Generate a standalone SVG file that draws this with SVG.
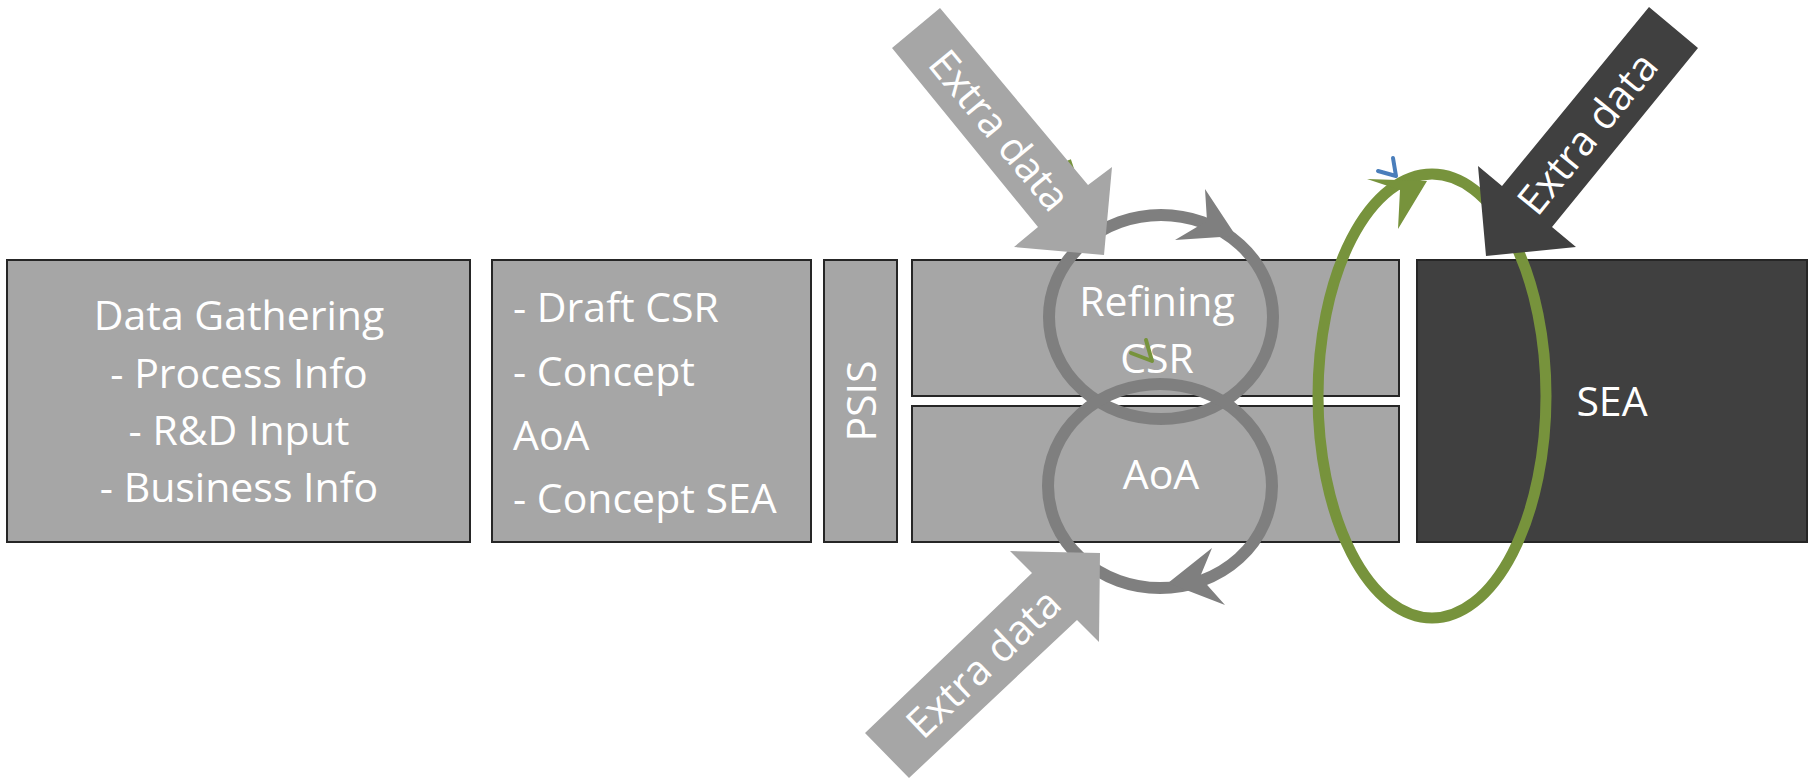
<svg xmlns="http://www.w3.org/2000/svg" width="1816" height="780" viewBox="0 0 1816 780">
<style>
.box{fill:#a6a6a6;stroke:#262626;stroke-width:2}
.dark{fill:#404040;stroke:#262626;stroke-width:2}
.t{font-family:"Open Sans","Liberation Sans",sans-serif;font-size:41px;fill:#ffffff}
.c{text-anchor:middle}
.ring{fill:none;stroke:#7f7f7f;stroke-width:12}
.green{fill:none;stroke:#77933c;stroke-width:11}
.tick{fill:none;stroke:#77933c;stroke-width:4;stroke-linecap:round;stroke-linejoin:round}
</style>
<rect width="1816" height="780" fill="#ffffff"/>
<g id="data-gathering">
<rect class="box" x="7" y="260" width="463" height="282"/>
<text class="t c" x="239" y="330">Data Gathering</text>
<text class="t c" x="239" y="388">- Process Info</text>
<text class="t c" x="239" y="445">- R&amp;D Input</text>
<text class="t c" x="239" y="502">- Business Info</text>
</g>
<g id="draft">
<rect class="box" x="492" y="260" width="319" height="282"/>
<text class="t" x="513" y="322">- Draft CSR</text>
<text class="t" x="513" y="386">- Concept</text>
<text class="t" x="513" y="450">AoA</text>
<text class="t" x="513" y="513">- Concept SEA</text>
</g>
<g id="psis">
<rect class="box" x="824" y="260" width="73" height="282"/>
<text class="t c" transform="translate(876,401) rotate(-90)" x="0" y="0">PSIS</text>
</g>
<g id="refining-csr">
<rect class="box" x="912" y="260" width="487" height="136"/>
<text class="t c" x="1157" y="316">Refining</text>
<text class="t c" x="1157" y="373">CSR</text>
</g>
<g id="aoa">
<rect class="box" x="912" y="406" width="487" height="136"/>
<text class="t c" x="1161" y="489">AoA</text>
</g>
<g id="sea">
<rect class="dark" x="1417" y="260" width="390" height="282"/>
<text class="t c" x="1612" y="416">SEA</text>
</g>
<g id="connectors">
<ellipse class="ring" cx="1161" cy="317" rx="112" ry="102"/>
<ellipse class="ring" cx="1160" cy="486" rx="112" ry="102"/>
<polygon fill="#7f7f7f" points="1205,189 1236,236 1175,240 1207,221"/>
<polygon fill="#7f7f7f" points="1168,583 1212,548 1200,577 1225,605"/>
<ellipse class="green" cx="1432" cy="396" rx="114" ry="222"/>
<polygon fill="#77933c" points="1427,181 1367,179 1400,190 1398,229"/>
<polyline class="tick" points="1131,353 1152,361 1146,340"/>
<line x1="1069" y1="160" x2="1073" y2="172" stroke="#77933c" stroke-width="4"/>
<polyline points="1378,171 1396,176 1393,158" fill="none" stroke="#4a7ebb" stroke-width="4" stroke-linecap="round" stroke-linejoin="round"/>
<g id="extra-1">
<polygon fill="#a6a6a6" points="940,8 1088,185 1112,167 1104,255 1014,247 1038,227 892,48"/>
<text class="t c" font-size="43" transform="translate(1000,130) rotate(50.4)" x="0" y="15">Extra data</text>
</g>
<g id="extra-2">
<polygon fill="#a6a6a6" points="865,733 1032,573 1010,551 1100,553 1099,642 1077,620 909,778"/>
<text class="t c" font-size="43" transform="translate(983,663) rotate(-43.6)" x="0" y="15">Extra data</text>
</g>
<g id="extra-3">
<polygon fill="#404040" points="1649,7 1502,186 1478,166 1486,256 1576,247 1552,227 1698,48"/>
<text class="t c" font-size="43" transform="translate(1587,133) rotate(-50.8)" x="0" y="15">Extra data</text>
</g>
</g>
</svg>
